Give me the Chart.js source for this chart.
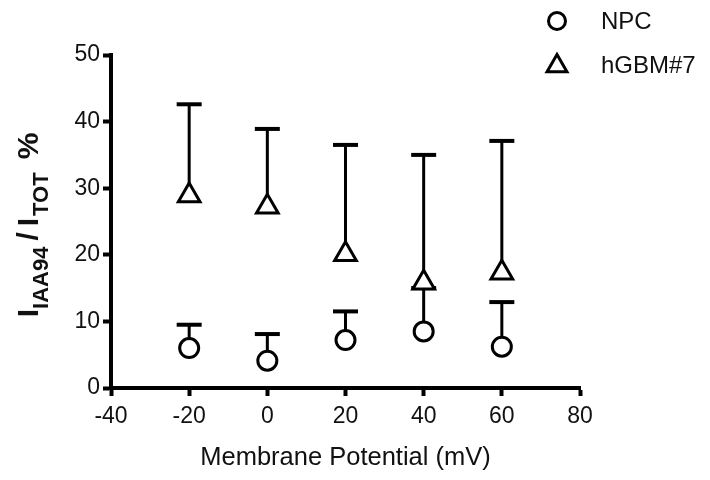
<!DOCTYPE html>
<html><head><meta charset="utf-8">
<script src="https://cdn.jsdelivr.net/npm/chart.js@4.4.1/dist/chart.umd.min.js"></script>
<style>html,body{margin:0;padding:0;background:#fff}#wrap{width:710px;height:480px}</style>
</head><body><div id="wrap"><canvas id="c" width="710" height="480"></canvas></div>
<script>
const potentials = [-20, 0, 20, 40, 60];
const npcMean = [6.0, 4.1, 7.2, 8.5, 6.2];
const npcUpper = [9.5, 8.1, 11.5, 15.0, 12.9];
const gbmMean = [28.9, 27.2, 20.1, 15.8, 17.3];
const gbmUpper = [42.6, 38.9, 36.5, 35.0, 37.1];
const xTicks = [-40, -20, 0, 20, 40, 60, 80];
const yTicks = [0, 10, 20, 30, 40, 50];
const seriesNames = ['NPC', 'hGBM#7'];
const xTitle = 'Membrane Potential (mV)';

const FONT = '"Liberation Sans", Arial, sans-serif';
const INK = '#111';

const errorBars = {
  id: 'errorBars',
  beforeDatasetsDraw(chart) {
    const ctx = chart.ctx, xs = chart.scales.x, ys = chart.scales.y;
    ctx.save();
    ctx.strokeStyle = '#000';
    chart.data.datasets.forEach(ds => {
      ds.upper.forEach((u, i) => {
        const px = xs.getPixelForValue(ds.data[i].x);
        const p0 = ys.getPixelForValue(ds.data[i].y);
        const p1 = ys.getPixelForValue(u);
        ctx.lineWidth = 3;
        ctx.beginPath(); ctx.moveTo(px, p0); ctx.lineTo(px, p1); ctx.stroke();
        ctx.lineWidth = 4;
        ctx.beginPath(); ctx.moveTo(px - 12.5, p1); ctx.lineTo(px + 12.5, p1); ctx.stroke();
      });
    });
    ctx.restore();
  }
};

function drawMarker(ctx, style, x, y, r) {
  ctx.beginPath();
  if (style === 'circle') {
    ctx.arc(x, y, r, 0, Math.PI * 2);
  } else {
    for (let k = 0; k < 3; k++) {
      const a = k * 2 * Math.PI / 3;
      const fx = x + Math.sin(a) * r, fy = y - Math.cos(a) * r;
      if (k === 0) ctx.moveTo(fx, fy); else ctx.lineTo(fx, fy);
    }
    ctx.closePath();
  }
  ctx.fillStyle = '#fff'; ctx.fill();
  ctx.lineWidth = 3; ctx.strokeStyle = '#000'; ctx.stroke();
}

const extras = {
  id: 'extras',
  afterDraw(chart) {
    const ctx = chart.ctx;
    ctx.save();
    // legend
    const items = chart.data.datasets;
    const ly = [21, 66];
    const lr = [8.5, 11.5];
    items.forEach((ds, i) => {
      drawMarker(ctx, ds.pointStyle, 557, ly[i], lr[i]);
      ctx.fillStyle = INK;
      ctx.font = '24px ' + FONT;
      ctx.textBaseline = 'middle';
      ctx.textAlign = 'left';
      ctx.fillText(ds.label, 601, i === 0 ? 22 : 66);
    });
    // y title with subscripts
    const segs = [
      {t: 'I', sub: false}, {t: 'IAA94', sub: true}, {t: '/', sub: false, gap: 6},
      {t: 'I', sub: false, gap: 6}, {t: 'TOT', sub: true, gap: 2}, {t: '%', sub: false, gap: 13}
    ];
    const big = 'bold 30px ' + FONT, small = 'bold 22px ' + FONT;
    let total = 0;
    segs.forEach(s => { ctx.font = s.sub ? small : big; s.w = ctx.measureText(s.t).width; total += s.w + (s.gap || 0); });
    ctx.translate(38, 225);
    ctx.rotate(-Math.PI / 2);
    ctx.fillStyle = INK;
    ctx.textAlign = 'left';
    ctx.textBaseline = 'alphabetic';
    let cx = -total / 2;
    segs.forEach(s => {
      cx += (s.gap || 0);
      ctx.font = s.sub ? small : big;
      ctx.fillText(s.t, cx, s.sub ? 10 : 0);
      cx += s.w;
    });
    ctx.restore();
  }
};

new Chart(document.getElementById('c'), {
  type: 'scatter',
  data: {
    datasets: [
      {label: seriesNames[0], data: potentials.map((x, i) => ({x, y: npcMean[i]})), upper: npcUpper,
       pointStyle: 'circle', pointRadius: 9.5, pointHoverRadius: 9.5, borderWidth: 3, borderColor: '#000', backgroundColor: '#fff'},
      {label: seriesNames[1], data: potentials.map((x, i) => ({x, y: gbmMean[i]})), upper: gbmUpper,
       pointStyle: 'triangle', pointRadius: 12.5, pointHoverRadius: 12.5, borderWidth: 3, borderColor: '#000', backgroundColor: '#fff'}
    ]
  },
  options: {
    responsive: false, animation: false, devicePixelRatio: 1,
    layout: {padding: {left: 0, right: 130, top: 55, bottom: 0}},
    plugins: {legend: {display: false}, tooltip: {enabled: false}},
    scales: {
      x: {
        type: 'linear', min: xTicks[0], max: xTicks[xTicks.length - 1],
        afterBuildTicks: s => { s.ticks = xTicks.map(v => ({value: v})); },
        afterFit: s => { s.height = 92; },
        ticks: {font: {family: FONT, size: 23}, color: INK, padding: 7, maxRotation: 0},
        grid: {drawOnChartArea: false, drawTicks: true, tickLength: 8, tickWidth: 4, tickColor: '#000'},
        border: {display: true, width: 4, color: '#000'},
        title: {display: true, text: xTitle, font: {family: FONT, size: 25.5}, color: INK, padding: {top: 0, bottom: 7}}
      },
      y: {
        type: 'linear', min: yTicks[0], max: yTicks[yTicks.length - 1],
        afterBuildTicks: s => { s.ticks = yTicks.map(v => ({value: v})); },
        afterFit: s => { s.width = 111; },
        ticks: {font: {family: FONT, size: 23}, color: INK, padding: 3},
        grid: {drawOnChartArea: false, drawTicks: true, tickLength: 8, tickWidth: 4, tickColor: '#000'},
        border: {display: true, width: 4, color: '#000'}
      }
    }
  },
  plugins: [errorBars, extras]
});
</script></body></html>
